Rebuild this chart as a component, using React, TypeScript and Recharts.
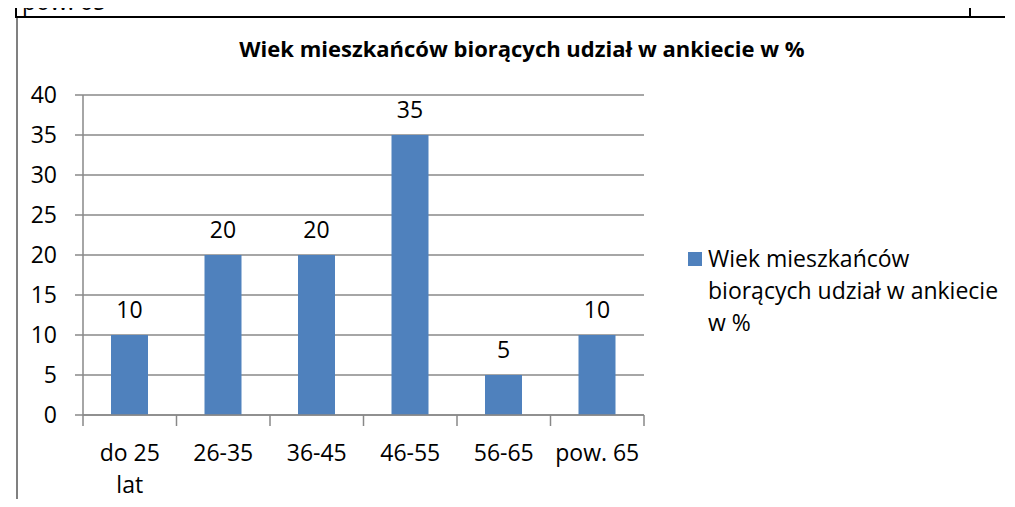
import React from 'react';
import { BarChart, Bar, XAxis, YAxis, CartesianGrid, LabelList } from 'recharts';

const categories = ['do 25 lat', '26-35', '36-45', '46-55', '56-65', 'pow. 65'];
const values = [10, 20, 20, 35, 5, 10];
const yTicks = [0, 5, 10, 15, 20, 25, 30, 35, 40];
const seriesName = 'Wiek mieszkańców biorących udział w ankiecie w %';
const legendLines = ['Wiek mieszkańców', 'biorących udział w ankiecie', 'w %'];

const FONT = '"Open Sans", sans-serif';
const FS = 23;
const BAR = '#4F81BD';
const GRID = '#888888';

const PLOT_LEFT = 83;
const PLOT_RIGHT = 644;
const BAND = (PLOT_RIGHT - PLOT_LEFT) / categories.length;

// wrap long labels the way Excel does ("do 25" / "lat")
function wrap(label: string): string[] {
  const words = label.split(' ');
  const lines: string[] = [];
  let cur = '';
  for (const w of words) {
    const next = cur ? cur + ' ' + w : w;
    if (next.length > 7 && cur) {
      lines.push(cur);
      cur = w;
    } else {
      cur = next;
    }
  }
  if (cur) lines.push(cur);
  return lines;
}

function CategoryTick(props: any) {
  const { x, y, payload, index } = props;
  const lines = wrap(String(payload.value));
  const left = x - BAND / 2;
  return (
    <g>
      <line x1={left} x2={left} y1={y - 8} y2={y + 3} stroke={GRID} strokeWidth={1.5} />
      {index === categories.length - 1 && (
        <line x1={left + BAND} x2={left + BAND} y1={y - 8} y2={y + 3} stroke={GRID} strokeWidth={1.5} />
      )}
      <text x={x} y={y + 38} textAnchor="middle" fontSize={FS} fontFamily={FONT} fill="#000">
        {lines.map((l, i) => (
          <tspan key={i} x={x} dy={i === 0 ? 0 : 32}>
            {l}
          </tspan>
        ))}
      </text>
    </g>
  );
}

export default function App() {
  const data = categories.map((c, i) => ({ name: c, value: values[i] }));

  return (
    <div style={{ position: 'relative', width: 1015, height: 507, overflow: 'hidden', background: '#fff', fontFamily: FONT, margin: -8 }}>
      {/* table remnants above the chart */}
      <div style={{ position: 'absolute', left: 22, top: -11, fontSize: FS, lineHeight: '24px', color: '#000' }}>pow. 65</div>
      <div style={{ position: 'absolute', left: 15, top: 16, width: 990, height: 2, background: '#000' }} />
      <div style={{ position: 'absolute', left: 15, top: 0, width: 2, height: 18, background: '#000' }} />
      <div style={{ position: 'absolute', left: 969, top: 0, width: 2, height: 18, background: '#000' }} />
      <div style={{ position: 'absolute', left: 16, top: 18, width: 2, height: 489, background: '#808080' }} />

      <div
        style={{
          position: 'absolute',
          left: 0,
          width: 1044,
          top: 33,
          textAlign: 'center',
          fontWeight: 700,
          fontSize: 22,
          color: '#000',
        }}
      >
        {seriesName}
      </div>

      <div style={{ position: 'absolute', left: 0, top: 0 }}>
        <BarChart width={1015} height={507} data={data} margin={{ top: 95, right: 1015 - PLOT_RIGHT, left: PLOT_LEFT - 60, bottom: 32 }}>
          <CartesianGrid vertical={false} stroke={GRID} strokeWidth={1.5} />
          <XAxis
            dataKey="name"
            height={60}
            axisLine={{ stroke: GRID, strokeWidth: 1.5 }}
            tickLine={false}
            tick={<CategoryTick />}
            interval={0}
          />
          <YAxis
            width={60}
            domain={[0, 40]}
            ticks={yTicks}
            interval={0}
            axisLine={{ stroke: GRID, strokeWidth: 1.5 }}
            tickLine={{ stroke: GRID, strokeWidth: 1.5 }}
            tickSize={8}
            tickMargin={18}
            tick={{ fill: '#000', fontSize: FS, fontFamily: FONT }}
          />
          <Bar dataKey="value" name={seriesName} fill={BAR} barSize={37} isAnimationActive={false}>
            <LabelList dataKey="value" position="top" offset={17} fill="#000" fontSize={FS} fontFamily={FONT} />
          </Bar>
        </BarChart>
      </div>

      {/* legend */}
      <div style={{ position: 'absolute', left: 688, top: 252, width: 14, height: 14, background: BAR }} />
      <div style={{ position: 'absolute', left: 708, top: 242, fontSize: FS, lineHeight: '32px', color: '#000' }}>
        {legendLines.map((l, i) => (
          <div key={i}>{l}</div>
        ))}
      </div>
    </div>
  );
}
